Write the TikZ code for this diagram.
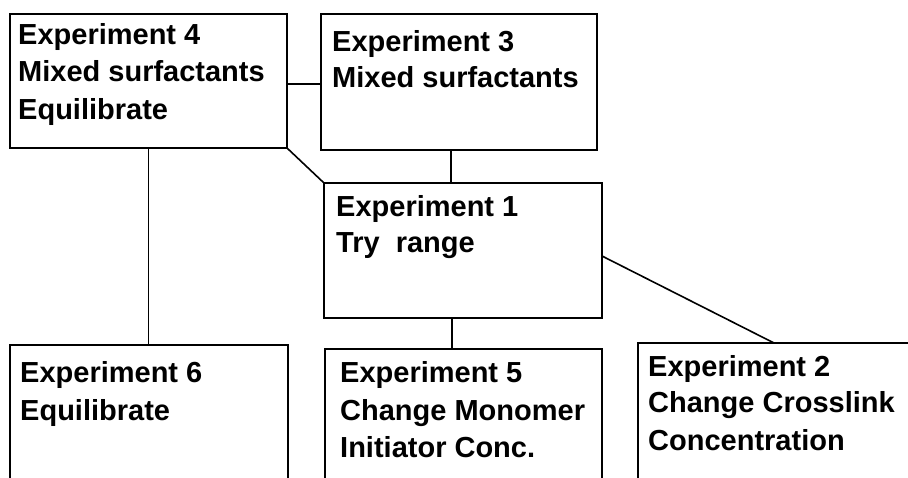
\documentclass[tikz,border=0pt]{standalone}
\usepackage{fontspec}
\setmainfont{Liberation Sans}
\begin{document}
\begin{tikzpicture}[x=1pt,y=-1pt,
  box/.style={draw,line width=2pt,rectangle,anchor=north west,outer sep=0pt,inner sep=0pt},
  txt/.style={anchor=base west,inner sep=0pt,font=\bfseries\fontsize{29}{32}\selectfont},
  link/.style={line width=1.6pt}]
\useasboundingbox (0,0) rectangle (908,478);
\clip (0,0) rectangle (908,478);
\node[box,minimum width=277pt,minimum height=134pt] (e4) at (10,14) {};
\node[box,minimum width=276pt,minimum height=136pt] (e3) at (321,14) {};
\node[box,minimum width=278pt,minimum height=135pt] (e1) at (324,183) {};
\node[box,minimum width=278pt,minimum height=160pt] (e6) at (10,345) {};
\node[box,minimum width=277pt,minimum height=160pt] (e5) at (325,349) {};
\node[box,minimum width=290pt,minimum height=160pt] (e2) at (638,343) {};
% texts
\node[txt] (t4a) at (18,45) {Experiment 4};
\node[txt] (t4b) at (18,82) {Mixed surfactants};
\node[txt] (t4c) at (18,120) {Equilibrate};
\node[txt] (t3a) at (332,52) {Experiment 3};
\node[txt] (t3b) at (332,88) {Mixed surfactants};
\node[txt] (t1a) at (336,217) {Experiment 1};
\node[txt] (t1b) at (336,253) {Try\ \ range};
\node[txt] (t6a) at (20,383) {Experiment 6};
\node[txt] (t6b) at (20,420) {Equilibrate};
\node[txt] (t5a) at (340,383) {Experiment 5};
\node[txt] (t5b) at (340,420) {Change Monomer};
\node[txt] (t5c) at (340,457) {Initiator Conc.};
\node[txt] (t2a) at (648,377) {Experiment 2};
\node[txt] (t2b) at (648,413) {Change Crosslink};
\node[txt] (t2c) at (648,450) {Concentration};
% connectors
\draw[link] ([yshift=-3pt]e4.east) -- ([yshift=-3pt]e4.east -| e3.west);
\draw[link] (e4.south) -- (e4.south |- e6.north);
\draw[link] (e4.south east) -- (e1.north west);
\draw[link] (451,0 |- e3.south) -- (451,0 |- e1.north);
\draw[link] ([yshift=-5.5pt]e1.east) -- (774,0 |- e2.north);
\draw[link] (452,0 |- e1.south) -- (452,0 |- e5.north);
\end{tikzpicture}
\end{document}
